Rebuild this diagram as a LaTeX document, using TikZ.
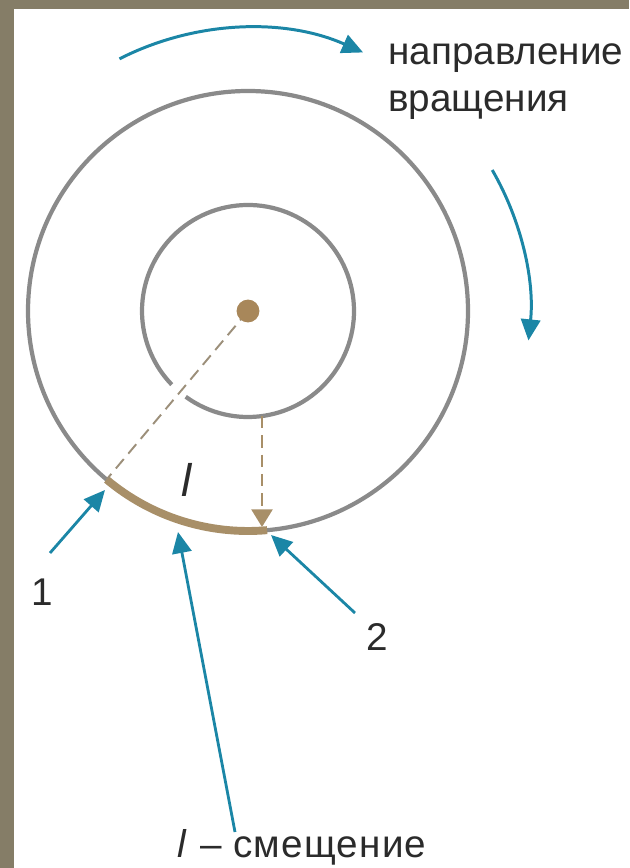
\documentclass[tikz,border=0pt]{standalone}
\usepackage{fontspec}
\setmainfont{Liberation Sans}
\usetikzlibrary{arrows.meta}
\definecolor{frame}{HTML}{857D67}
\definecolor{ringgray}{HTML}{8A8A8A}
\definecolor{tan}{HTML}{A88F68}
\definecolor{hubbrown}{HTML}{A8875A}
\definecolor{guidegray}{HTML}{9C8F7A}
\definecolor{arrowblue}{HTML}{1B86A6}
\definecolor{ink}{HTML}{2B2B2B}

\begin{document}
\begin{tikzpicture}[
  x=0.02cm, y=0.02cm,
  font=\fontsize{22}{27}\selectfont, text=ink,
  ring/.style={draw=ringgray, line width=2.4pt},
  trace/.style={draw=tan, line width=4.5pt},
  guide/.style={draw=guidegray, line width=1.1pt, dash pattern=on 7pt off 4pt},
  drop/.style={draw=tan, line width=1.1pt, dash pattern=on 7pt off 4pt,
    -{Triangle[length=10pt, width=12pt]}},
  turn/.style={draw=arrowblue, line width=1.7pt,
    -{Triangle[length=12pt, width=11pt]}},
  pointer/.style={draw=arrowblue, line width=1.6pt,
    -{Triangle[length=12pt, width=11pt]}},
  hub/.style={circle, fill=hubbrown, inner sep=0pt, minimum size=13pt},
]
\useasboundingbox (0,0) rectangle (629,868);
\fill[frame] (0,0) rectangle (14,868);
\fill[frame] (0,859) rectangle (629,868);

% rings
\coordinate (O) at (248,557);
\draw[ring] (O) circle[radius=220];
\draw[ring] ([shift={(234:106)}]O) arc[start angle=234, end angle=584, radius=106];

% offset along the outer ring
\coordinate (P1) at ([shift={(230:220)}]O);
\coordinate (P2) at ([shift={(275:220)}]O);
\draw[trace] (P1) arc[start angle=230, end angle=275, radius=220];

\draw[guide] (O) -- (P1);
\node[hub] (centre) at (O) {};

\coordinate (Q1) at (262,452);
\coordinate (Q2) at (262,341);
\draw[drop] (Q1) -- (Q2);

% direction of rotation
\coordinate (top1) at ([shift={(117:283)}]O);
\coordinate (side1) at ([shift={(30:282)}]O);
\draw[turn] (top1) arc[start angle=117, end angle=66, radius=283];
\draw[turn] (side1) arc[start angle=30, end angle=-6, radius=282];
\node[anchor=base west, align=left, inner sep=0pt] (dir) at (388,756)
  {направление\\вращения};

% labels
\coordinate (t1) at (50,315);
\coordinate (h1) at (105,378);
\draw[pointer] (t1) -- (h1);
\node (one) at (42,276) {1};

\coordinate (t2) at (355,255);
\coordinate (h2) at (271,333);
\draw[pointer] (t2) -- (h2);
\node (two) at (377,231) {2};

\coordinate (t3) at (235,36);
\coordinate (h3) at (178,336);
\draw[pointer] (t3) -- (h3);

\node[font=\fontsize{26}{30}\selectfont\itshape] (ell) at (187,388) {l};
\node (caption) at (302,21) {\addfontfeature{LetterSpace=3}\textit{l} – смещение};

\end{tikzpicture}
\end{document}
